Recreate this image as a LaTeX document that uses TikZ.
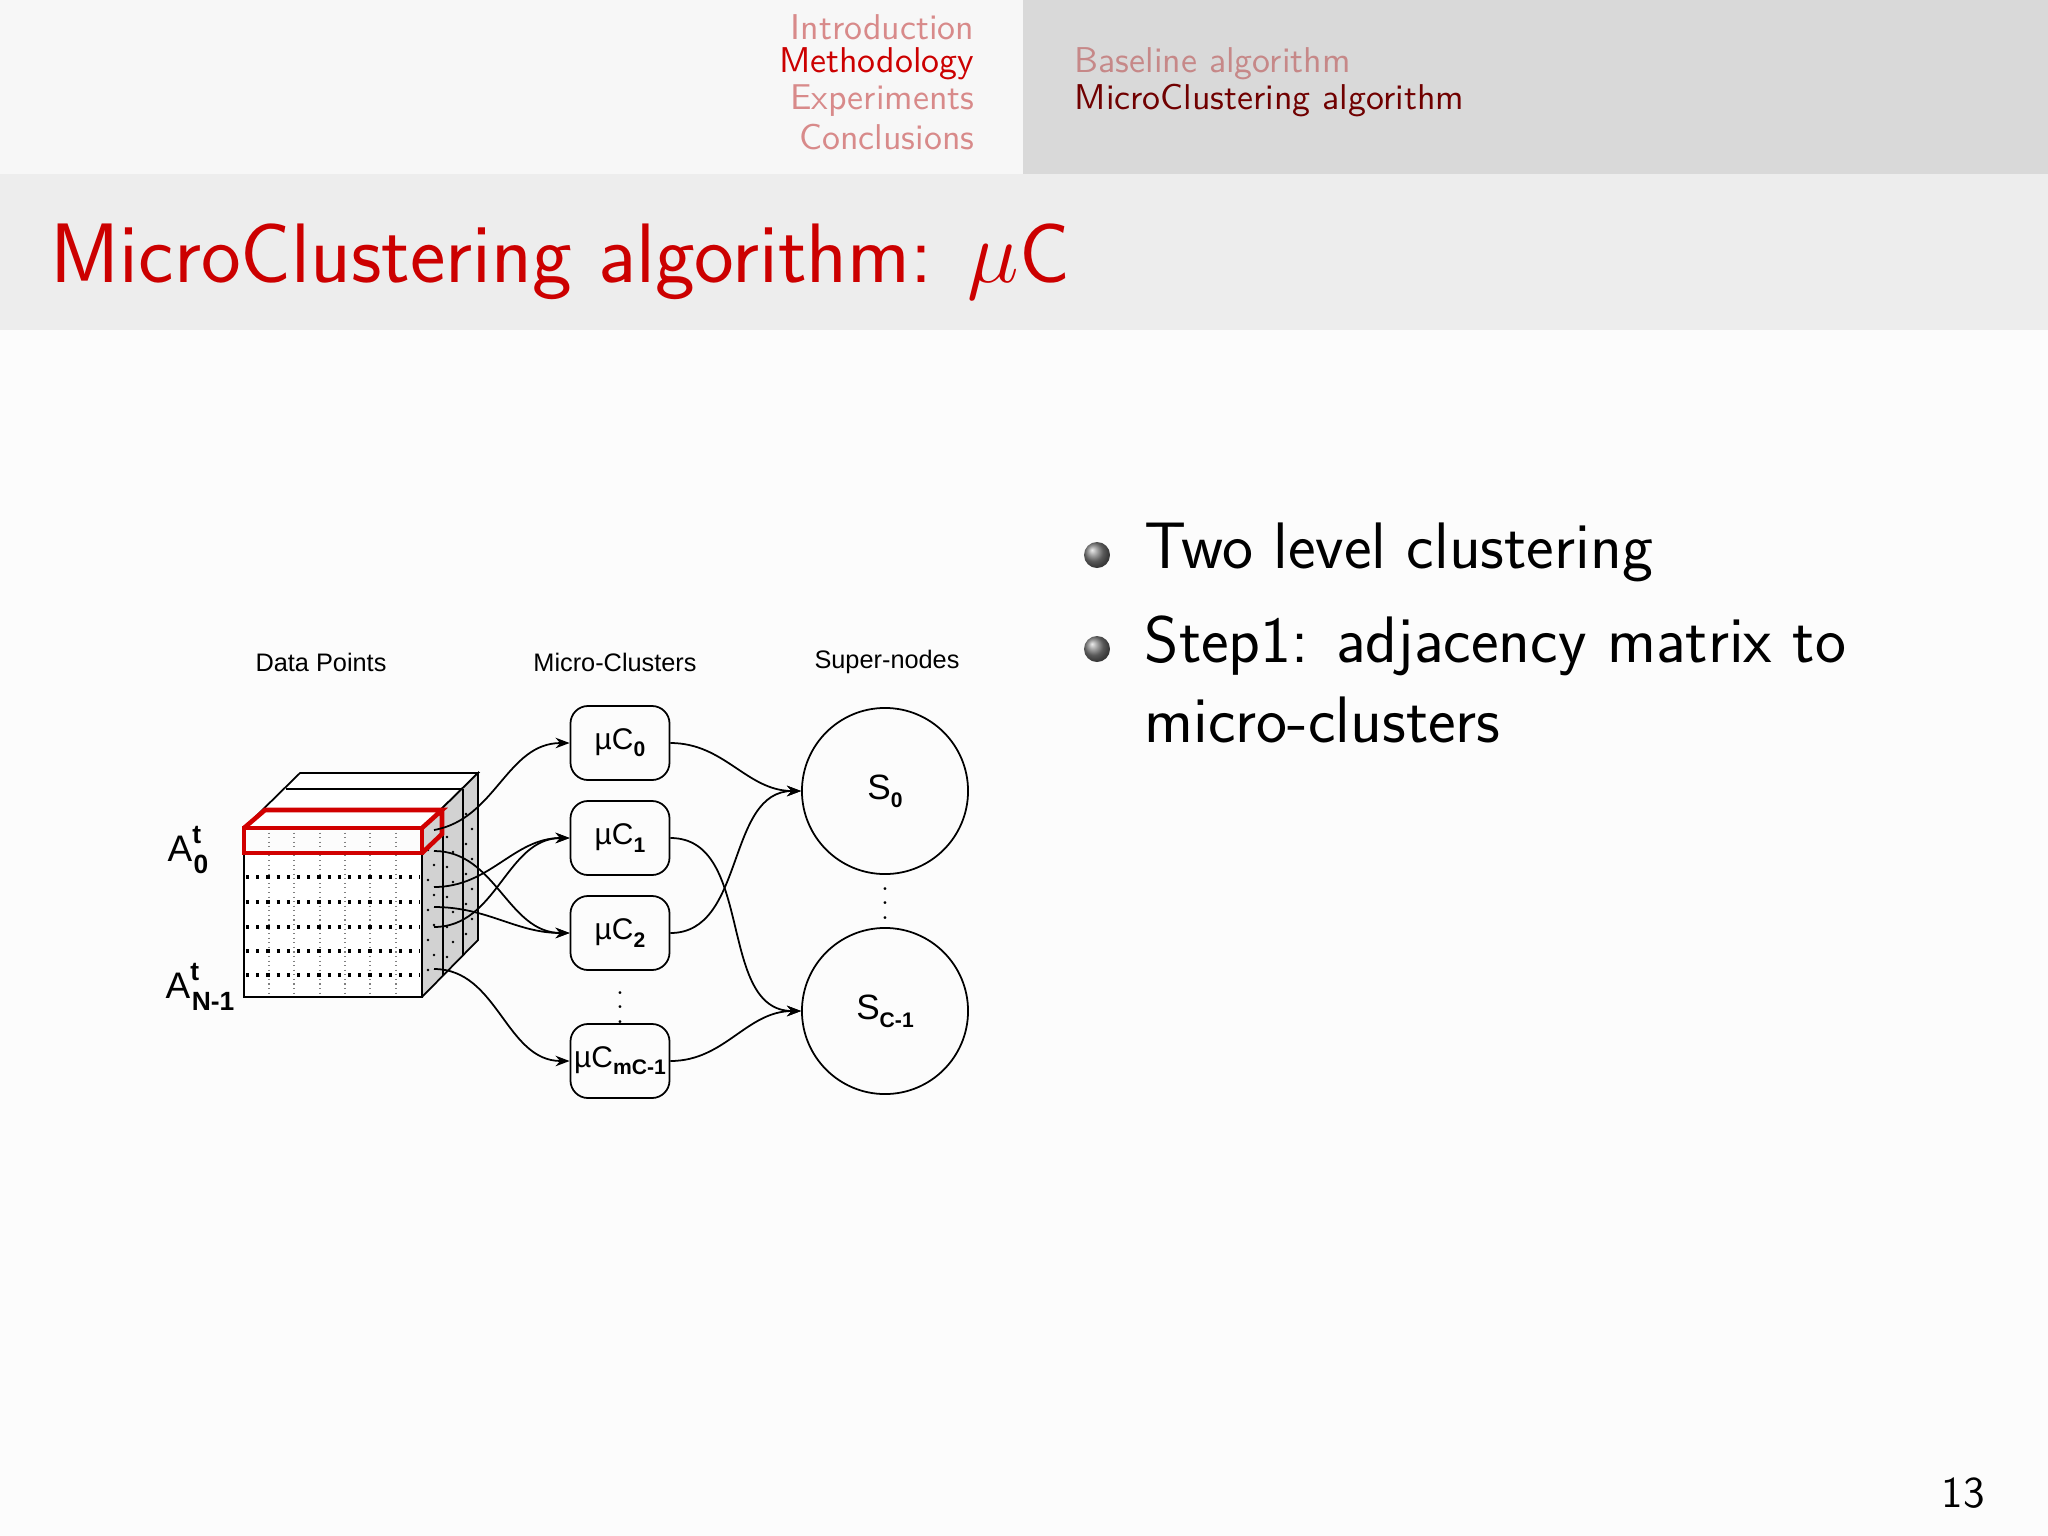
\documentclass[tikz,border=0pt]{standalone}
\usepackage{fontspec}
\newfontfamily\arial{Liberation Sans}
\usetikzlibrary{arrows.meta,shapes.geometric}
\definecolor{titlered}{HTML}{CC0000}
\definecolor{navfade}{HTML}{D88A8A}
\definecolor{navdark}{HTML}{A00000}
\newcommand{\lsub}[1]{\raisebox{-0.45ex}{\fontsize{6}{7}\selectfont\bfseries #1}}
\newcommand{\lsup}[2]{\raisebox{0.9ex}{\fontsize{7.5}{8}\selectfont\bfseries #1}\hspace{-0.2em}\raisebox{-0.6ex}{\fontsize{7.5}{8}\selectfont\bfseries #2}}
\tikzset{
 mc/.style={draw,rounded corners=5pt,minimum width=0.99cm,minimum height=0.74cm,inner xsep=1pt,font=\arial\fontsize{8.5}{10}\selectfont,line width=0.5pt},
 sn/.style={draw,circle,minimum size=1.66cm,font=\arial\fontsize{10}{12}\selectfont,line width=0.5pt},
 hd/.style={font=\arial\fontsize{7.2}{9}\selectfont},
 con/.style={-{Stealth[length=4pt,width=3pt]},line width=0.5pt},
 nav/.style={font=\sffamily\fontsize{10.2}{11}\selectfont,inner sep=0},
 bul/.style={font=\sffamily\fontsize{18.7}{21}\selectfont,anchor=west,inner sep=0},
 vd/.style={inner sep=0,font=\fontsize{7}{8}\selectfont},
}
\begin{document}
\begin{tikzpicture}[x=0.01cm,y=-0.01cm]
\useasboundingbox (0,0) rectangle (2048,1536);
\fill[white!97!black] (0,0) rectangle (1023,174);
\fill[white!85!black] (1023,0) rectangle (2048,174);
\fill[white!93!black] (0,174) rectangle (2048,330);
\fill[white!99!black] (0,330) rectangle (2048,1536);
% nav
\node[nav,anchor=east,text=navfade] (n1) at (975,27) {Introduction};
\node[nav,anchor=east,text=titlered] (n2) at (975,64) {Methodology};
\node[nav,anchor=east,text=navfade] (n3) at (975,101) {Experiments};
\node[nav,anchor=east,text=navfade] (n4) at (975,137) {Conclusions};
\node[nav,anchor=west,text=navfade!80!gray] (m1) at (1074,64) {Baseline algorithm};
\node[nav,anchor=west,text=navdark!70!black] (m2) at (1074,101) {MicroClustering algorithm};
% title
\node[anchor=west,inner sep=0,text=titlered,font=\sffamily\fontsize{24}{28}\selectfont] (title) at (50,262) {MicroClustering algorithm: $\mu$C};
% bullets
\shade[ball color=gray] (1097,555) circle (13);
\shade[ball color=gray] (1097,649) circle (13);
\node[bul] (b1) at (1144,552) {Two level clustering};
\node[bul] (b2) at (1144,646) {Step1: adjacency matrix to};
\node[bul] (b3) at (1144,720) {micro-clusters};
\node[font=\sffamily\fontsize{12.5}{14}\selectfont] (pg) at (1963,1493) {13};
% headers
\node[hd] (h1) at (321,662) {Data Points};
\node[hd] (h2) at (615,662) {Micro-Clusters};
\node[hd] (h3) at (887,662) {Super-nodes};
% cube
\fill[white] (244,828) -- (300,773) -- (478,773) -- (422,828) -- cycle;
\draw[line width=0.5pt] (244,828) -- (300,773) -- (478,773) -- (422,828);
\draw[line width=0.4pt] (286,789) -- (461,789);
\fill[gray!35] (422,828) -- (478,773) -- (478,940) -- (422,997) -- cycle;
\draw[line width=0.5pt] (422,828) -- (478,773) -- (478,940) -- (422,997);
\draw[line width=0.4pt] (443,808) -- (443,976) (463,789) -- (463,956);
\foreach \i in {0,...,8}{
 \foreach \j in {0,1,2}{
  \fill ({428+\j*19+mod(\i,2)*6},{850+\i*15-\j*18+mod(\j,2)*5}) circle (1.3);
 }}
\fill[white] (244,853) rectangle (422,997);
\draw[line width=0.5pt] (244,828) rectangle (422,997);
\foreach \x in {269,294,320,345,370,396}
 \draw[densely dotted,line width=0.3pt,gray] (\x,828) -- (\x,997);
\foreach \y in {877,902,927,951,975}
 \draw[dotted,line width=0.9pt] (246,\y) -- (420,\y);
\draw[titlered!90!red,line width=1.3pt] (244,828) rectangle (422,853);
\draw[titlered!90!red,line width=1.3pt] (244,828) -- (265,810) -- (442,810) -- (422,828) (442,810) -- (442,834) -- (422,853);
\node[font=\arial\fontsize{10.5}{12}\selectfont,inner sep=0] (a0) at (188,850) {A\lsup{t}{0}};
\node[font=\arial\fontsize{10.5}{12}\selectfont,inner sep=0] (an) at (200,987) {A\lsup{t}{N-1}};
% micro clusters
\node[mc] (c0) at (620,743) {µC\lsub{0}};
\node[mc] (c1) at (620,838) {µC\lsub{1}};
\node[mc] (c2) at (620,933) {µC\lsub{2}};
\node[mc] (cm) at (620,1061) {µC\lsub{mC-1}};
\node[vd] (vd1) at (620,997) {$\vdots$};
\node[sn] (s0) at (885,791) {S\lsub{0}};
\node[sn] (sc) at (885,1011) {S\lsub{C-1}};
\node[vd] (vd2) at (885,893) {$\vdots$};
\coordinate (p1) at (434,830);
\coordinate (p2) at (434,851);
\coordinate (p3) at (434,887);
\coordinate (p4) at (434,907);
\coordinate (p5) at (434,927);
\coordinate (p6) at (434,969);
\draw[con] (p1) to[out=10,in=180] (c0.west);
\draw[con] (p2) to[out=0,in=180] (c2.west);
\draw[con] (p3) to[out=0,in=180] (c1.west);
\draw[con] (p4) to[out=0,in=180] (c2.west);
\draw[con] (p5) to[out=0,in=180] (c1.west);
\draw[con] (p6) to[out=0,in=180] (cm.west);
\draw[con] (c0.east) to[out=0,in=180] (s0.west);
\draw[con] (c2.east) to[out=0,in=180] (s0.west);
\draw[con] (c1.east) to[out=0,in=180] (sc.west);
\draw[con] (cm.east) to[out=0,in=180] (sc.west);
\end{tikzpicture}
\end{document}
